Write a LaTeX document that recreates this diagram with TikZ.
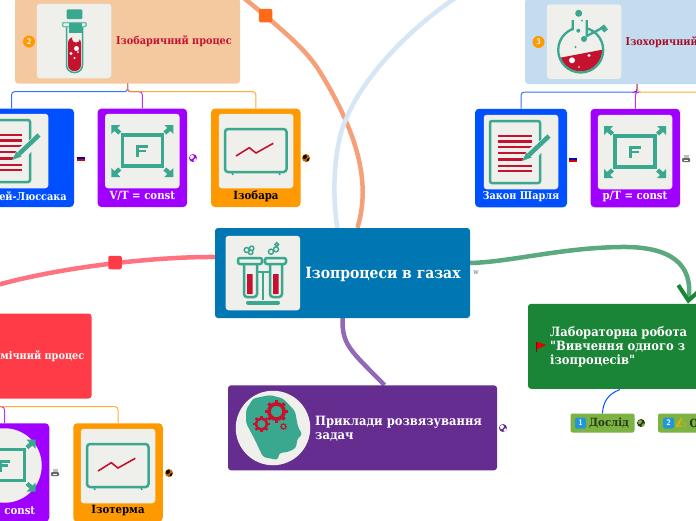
\documentclass[tikz,border=0pt]{standalone}
\usepackage{fontspec}
\setmainfont{DejaVu Serif Condensed}[Ligatures=TeXOff]
\newfontfamily\emojifont{Noto Emoji}
\usepackage{xcolor}
\usetikzlibrary{arrows.meta, positioning, calc, backgrounds}

\definecolor{iconbg}{HTML}{EFEFEB}
\definecolor{iconteal}{HTML}{3AA78F}
\definecolor{iconred}{HTML}{C4122F}
\definecolor{centralblue}{HTML}{0077B3}
\definecolor{isobarpeach}{HTML}{F4C9A0}
\definecolor{isochorblue}{HTML}{C3DCEF}
\definecolor{isothermred}{HTML}{FF3B47}
\definecolor{examplespurple}{HTML}{652D8F}
\definecolor{labgreen}{HTML}{1A8437}
\definecolor{lawblue}{HTML}{0050FF}
\definecolor{formulapurple}{HTML}{A000FF}
\definecolor{graphorange}{HTML}{FF9900}
\definecolor{stepgreen}{HTML}{7CB342}
\definecolor{keyblue}{HTML}{2196D8}

\tikzset{
    topicbox/.style={rounded corners=3pt, minimum height=85pt, inner sep=0pt},
    childbox/.style={rounded corners=4pt, minimum height=98.5pt, inner sep=0pt},
    stepbox/.style={fill=stepgreen, rounded corners=2pt, minimum height=19pt, inner sep=0pt},
    iconbox/.style={fill=iconbg, rounded corners=3pt, minimum width=74.5pt, minimum height=74.5pt, inner sep=0pt},
    iconround/.style={fill=iconbg, circle, minimum size=74.5pt, inner sep=0pt},
    knob/.style={rounded corners=2pt, minimum size=13.5pt, inner sep=0pt},
    badge/.style={circle, fill=graphorange, text=white, minimum size=12pt, inner sep=0pt, font=\sffamily\bfseries\fontsize{8}{8}\selectfont},
    keycap/.style={fill=keyblue, text=white, rounded corners=1.5pt, minimum size=11pt, inner sep=0pt, font=\sffamily\bfseries\fontsize{8}{8}\selectfont},
    maintitle/.style={inner sep=0pt, font=\bfseries\fontsize{15.5}{17}\selectfont},
    topictitle/.style={inner sep=0pt, font=\bfseries\fontsize{10.8}{13}\selectfont},
    childtitle/.style={inner sep=0pt, font=\bfseries\fontsize{11.3}{14}\selectfont},
    lawtitle/.style={inner sep=0pt, font=\bfseries\fontsize{10.8}{13}\selectfont},
    wraptitle/.style={inner sep=0pt, font=\bfseries\fontsize{12.8}{13.6}\selectfont, align=left, anchor=west},
    mainline/.style={line width=4.5pt},
    elbow/.style={line width=1pt, rounded corners=3pt, opacity=0.8},
    % document with pen
    pics/docicon/.style={code={
        \draw[iconteal, line width=2.5pt, rounded corners=2pt] (-31,-31) rectangle (19,31);
        \foreach \y/\w in {-16/2.6, -10.7/2.6, -5/1.6, 0.7/1.6, 7.3/2.6, 13.7/1.6, 19/1.6}
            \draw[iconred, line width=\w pt] (-23,\y) -- (11,\y);
        \fill[iconbg] (0,12) -- (6,-2) -- (31,-20) -- (32,-12) -- (10,12) -- cycle;
        \draw[iconteal, line width=4.5pt] (8,3) -- (28,-16);
        \fill[iconteal] (1,9) -- (5.5,0.5) -- (10.5,5.5) -- cycle;
    }},
    % frame with four corner arrows
    pics/frameicon/.style={code={
        \draw[iconteal, line width=3.5pt] (-20,-16) rectangle (20,15);
        \draw[iconteal, line width=3pt] (5.5,-4.5) -- (-4.5,-4.5) -- (-4.5,6);
        \draw[iconteal, line width=2.5pt] (-4.5,0) -- (3.5,0);
        \foreach \sx/\sy in {1/1, -1/1, 1/-1, -1/-1}
            \fill[iconteal, xscale=\sx, yscale=\sy] (-31,-26) -- (-22,-26) -- (-25,-23) -- (-21,-19.5) -- (-24,-16.5) -- (-28,-20) -- (-31,-17) -- cycle;
    }},
    % screen with a graph line
    pics/charticon/.style={code={
        \draw[iconteal, line width=2.5pt, rounded corners=3pt] (-31,-22) rectangle (30.5,21);
        \draw[iconteal, line width=1.5pt] (-24,21.5) -- (-23,24) (23,21.5) -- (24,24);
        \draw[iconred, line width=1.6pt] (-20,5) -- (-6.7,-3.3) -- (0,2) -- (17.3,-7.7);
    }},
    pics/gearicon/.style={code={
        \draw[iconred, line width=#1*0.38pt] (0,0) circle[radius=#1*0.8];
        \foreach \a in {0,45,...,315}
            \fill[iconred, rotate=\a] (#1*0.9,-#1*0.17) rectangle (#1*1.2,#1*0.17);
    }},
    pics/globeicon/.style n args={2}{code={
        \fill[#1] (0,0) circle[radius=4];
        \fill[#2] (-3,-2) -- (0,-3.5) -- (1,-1) -- (-1,1) -- (-2.5,1) -- cycle;
        \fill[#2] (1,1) -- (3.5,0) -- (2.5,3) -- (0.5,3.5) -- cycle;
    }},
    pics/flagicon/.style={code={
        \fill[blue!70!black] (-4,-2.5) rectangle (4,0);
        \fill[red!85!black] (-4,0) rectangle (4,2.5);
        \fill[white] (-4,-2.5) rectangle (4,-1.4);
    }},
    pics/printicon/.style={code={
        \fill[gray!80!black, rounded corners=1pt] (-4,-1) rectangle (4,3);
        \fill[gray!50] (-2.5,-4) rectangle (2.5,-1);
        \fill[white] (-2,1) rectangle (2,2);
    }},
}

\begin{document}
\begin{tikzpicture}[x=1pt, y=-1pt]
    \useasboundingbox (0,0) rectangle (696,520);
    \clip (0,0) rectangle (696,520);

    % Main boxes
    \node[topicbox, fill=centralblue, minimum width=255pt, minimum height=90pt] (central) at (342.5,273) {};
    \node[topicbox, fill=isobarpeach, minimum width=225pt] (isobar) at (127.5,41) {};
    \node[topicbox, fill=isochorblue, minimum width=224pt] (isochor) at (637,41.5) {};
    \node[topicbox, fill=isothermred, minimum width=263pt] (isotherm) at (-40,356) {};
    \node[topicbox, fill=examplespurple, minimum width=269pt] (examples) at (362.5,427.8) {};
    \node[topicbox, fill=labgreen, minimum width=184pt] (labwork) at (620,346.3) {};

    % Free ends of the main curves
    \coordinate (isobarend) at (232,-12);
    \coordinate (isochorend) at (472,-13);
    \coordinate (isothermend) at (-20,290);

    % Main curves
    \begin{scope}[on background layer]
    \fill[white] (0,0) rectangle (696,520);
    \draw[mainline, color={rgb,255:red,245;green,160;blue,120}] ($(central.north)+(15,0)$) .. controls (367,195) and (368,150) .. (320,72) .. controls (305,48) and (285,32) .. (isobarend);
    \draw[mainline, color={rgb,255:red,214;green,230;blue,244}] ($(central.north)+(-5,0)$) .. controls (331,190) and (335,140) .. (347,117) .. controls (358,90) and (395,35) .. (isochorend);
    \draw[mainline, color={rgb,255:red,255;green,115;blue,128}] ($(central.west)+(0,-16)$) .. controls (165,256.5) and (60,265) .. (isothermend);
    \draw[mainline, color={rgb,255:red,148;green,104;blue,180}] (central.south) .. controls (342,345) and (350,350) .. ($(examples.north)+(22,0)$);
    \draw[mainline, color={rgb,255:red,91;green,170;blue,127}, -{Straight Barb[length=14pt, width=24pt, line width=4pt, color=labgreen]}] ($(central.east)+(0,-10)$) .. controls (510,262) and (560,248) .. (620,247) .. controls (672,246) and (693,265) .. ($(labwork.north)+(68,0)$);
    \end{scope}

    \node[knob, fill=orange!70!red!90] (isobarknob) at (265.5,15.5) {};
    \node[knob, fill=isothermred] (isothermknob) at (115,262.5) {};

    % Central
    \node[iconbox] (centralicon) at (262.8,273) {};
    \node[maintitle, text=white] (centraltext) at (383,274) {Ізопроцеси в газах};
    \node[font=\fontsize{7}{7}\selectfont, text=gray!80!black, inner sep=0pt] (wikilink) at (476,272.5) {w};
    % rack with two tubes
    \draw[iconteal, line width=2.5pt, rounded corners=2pt] (238,258) rectangle (262,264) (265,258) rectangle (286,264);
    \draw[iconteal, line width=2.5pt, rounded corners=3pt] (244,264) -- (244,297) -- (257,297) -- (257,264);
    \draw[iconteal, line width=2.5pt, rounded corners=3pt] (270,264) -- (270,297) -- (282,297) -- (282,264);
    \fill[iconred] (247,274) rectangle (252.7,294) (273,274) rectangle (278.5,294);
    \draw[iconteal, line width=2pt] (257,272) -- (270,272) (263,272) -- (263,300);
    \draw[iconteal, line width=4pt, line cap=round] (248,302.5) -- (278,302.5);
    \draw[iconteal, line width=1.5pt] (246.7,250) circle[radius=2.5] (251.7,248.3) circle[radius=2.2] (250.7,252.3) circle[radius=2.2];
    \draw[iconteal, line width=1.5pt] (271,251.7) circle[radius=2.5] (276,249.3) circle[radius=2.5] (276.7,244.5) circle[radius=1.8];

    % Isobaric
    \node[iconbox] (isobaricon) at (74,41) {};
    \node[badge] (isobarbadge) at (29,41.5) {2};
    \node[topictitle, text=iconred] (isobartext) at (174,41.5) {Ізобаричний процес};
    % test tube
    \fill[iconteal, rounded corners=1pt] (66.7,9.3) rectangle (82.3,19);
    \fill[iconred, rounded corners=6pt] (68,37) rectangle (81,71);
    \fill[iconbg] (76,38.5) circle[radius=4];
    \draw[iconteal, line width=1.5pt, rounded corners=7.5pt] (66.5,26.5) -- (66.5,72.5) -- (82.5,72.5) -- (82.5,26.5);
    \draw[iconteal!70, line width=1.5pt, rounded corners=1pt] (62.5,22.5) rectangle (86,26.5);
    \fill[iconteal] (69,23.3) rectangle (81.7,32.7);
    \fill[white] (76.5,48.5) circle[radius=2.5] (71,53.5) circle[radius=1.6] (74.5,58) circle[radius=1.2] (78,52) circle[radius=1];

    % Isochoric
    \node[iconbox] (isochoricon) at (584,41.5) {};
    \node[badge] (isochorbadge) at (538.5,42) {3};
    \node[topictitle, text=iconred!85!black, anchor=west] (isochortext) at (625.5,42) {Ізохоричний процес};
    % flask
    \begin{scope}
        \clip (580.7,50) circle[radius=21.5];
        \fill[iconred] (556,58.5) -- (606,49) -- (606,80) -- (556,80) -- cycle;
    \end{scope}
    \draw[iconteal, line width=2.3pt] (580.7,50) circle[radius=22.5];
    \fill[iconbg] (574,25) rectangle (585.5,32);
    \draw[iconteal, line width=2.3pt] (572.7,20) -- (572.7,30) (586.7,20) -- (586.7,36) -- (604,27);
    \draw[iconteal, line width=5pt] (602,26) -- (606,31);
    \fill[iconteal] (578.7,13.3) circle[radius=3.5] (584,39) circle[radius=3] (578.3,30.7) circle[radius=2] (582,20.7) circle[radius=1] (575.5,47) circle[radius=1.2];
    \fill[white] (572,60.3) circle[radius=3] (589,55.5) circle[radius=1.6] (579,67) circle[radius=0.9];

    % Isobaric children
    \node[childbox, fill=lawblue, minimum width=125pt] (gaylussac) at (11.5,157.8) {};
    \node[childbox, fill=formulapurple, minimum width=89.5pt] (vtconst) at (142.3,157.8) {};
    \node[childbox, fill=graphorange, minimum width=89.5pt] (isobargraph) at (255.8,157.8) {};
    \draw[elbow, lawblue] (isobar.south) -- ++(0,8) -| (gaylussac.north);
    \draw[elbow, formulapurple] (isobar.south) -- ++(0,8) -| (vtconst.north);
    \draw[elbow, graphorange] (isobar.south) -- ++(0,8) -| (isobargraph.north);
    \node[iconbox] (gayicon) at (11,151) {};
    \node[iconbox] (vticon) at (142.3,151) {};
    \node[iconbox] (isobargraphicon) at (256,151) {};
    \pic at (gayicon) {docicon};
    \pic at (vticon) {frameicon};
    \pic at (isobargraphicon) {charticon};
    \node[lawtitle, text=white] (gaytext) at (11,196.5) {Закон Гей-Люссака};
    \node[childtitle, text=white] (vttext) at (142.3,196) {V/T = const};
    \node[childtitle, text=black] (isobargraphtext) at (256,196) {Ізобара};
    \pic at (80.5,158.5) {flagicon};
    \pic at (193,158) {globeicon={formulapurple}{white}};
    \pic at (306,158) {globeicon={orange!80!black}{black}};

    % Isochoric children
    \node[childbox, fill=lawblue, minimum width=92pt] (charles) at (521,158) {};
    \node[childbox, fill=formulapurple, minimum width=89.5pt] (ptconst) at (635.3,158) {};
    \coordinate (isochorgraph) at (749,109);
    \draw[elbow, lawblue] (isochor.south) -- ++(0,8) -| (charles.north);
    \draw[elbow, formulapurple] (isochor.south) -- ++(0,8) -| (ptconst.north);
    \draw[elbow, graphorange] (isochor.south) -- ++(0,8) -| (isochorgraph);
    \node[iconbox] (charlesicon) at (521,152) {};
    \node[iconbox] (pticon) at (635,152) {};
    \pic at (charlesicon) {docicon};
    \pic at (pticon) {frameicon};
    \node[lawtitle, text=white] (charlestext) at (521,196.5) {Закон Шарля};
    \node[childtitle, text=white] (pttext) at (635,197) {p/T = const};
    \pic at (573,159.5) {flagicon};
    \pic at (686,159) {printicon};

    % Isothermal
    \node[topictitle, text=white, anchor=east] (isothermtext) at (84.5,356.5) {Ізотермічний процес};
    \node[childbox, fill=formulapurple, minimum width=89.5pt] (pvconst) at (4.5,472.5) {};
    \node[childbox, fill=graphorange, minimum width=89.5pt] (isothermgraph) at (118,472.5) {};
    \draw[elbow, formulapurple] (isotherm.south) -- ++(0,8) -| (pvconst.north);
    \draw[elbow, graphorange] (isotherm.south) -- ++(0,8) -| (isothermgraph.north);
    \node[iconround] (pvicon) at (4.5,465.5) {};
    \node[iconbox] (isothermgraphicon) at (118,466) {};
    \pic at (pvicon) {frameicon};
    \pic at (isothermgraphicon) {charticon};
    \node[childtitle, text=white] (pvtext) at (4.5,511.5) {pV = const};
    \node[childtitle, text=black] (isothermgraphtext) at (118,511) {Ізотерма};
    \pic at (55,473) {printicon};
    \pic at (169,473) {globeicon={orange!80!black}{black}};

    % Examples
    \node[iconround] (examplesicon) at (273,428) {};
    \node[wraptitle, text=white] (examplestext) at (315,429) {Приклади розвязування\\задач};
    \fill[iconteal, rounded corners=3pt] (246,410) -- (253,398.5) -- (270,395) -- (283,398.5) -- (295,411) -- (298,427) -- (302.5,435) -- (297.5,438) -- (296,448) -- (288,452) -- (279,453) -- (278,460) -- (263,457) -- (255,440) -- (246,423) -- cycle;
    \pic at (276.5,411.5) {gearicon=9.5};
    \pic at (261.5,424) {gearicon=7};
    \pic at (283.5,426.5) {gearicon=3};
    \pic at (503,428) {globeicon={examplespurple}{white}};

    % Lab work
    \node[wraptitle, text=white] (labtext) at (550,346.8) {Лабораторна робота\\"Вивчення одного з\\ізопроцесів"};
    \fill[red!60!black] (536,342) rectangle (537,352);
    \fill[red!90!black] (537,342) -- (546.5,345) -- (537,349) -- cycle;

    % Lab steps
    \node[stepbox, minimum width=64pt] (stepone) at (602.5,423) {};
    \node[stepbox, minimum width=60pt] (steptwo) at (688,423) {};
    \draw[line width=1pt, lawblue] ($(labwork.south)+(0,0.5)$) .. controls (608,394) and (603,402) .. (stepone.north);
    \node[keycap] (stepkeyone) at (580.5,423) {1};
    \node[childtitle, text=black!70!stepgreen, anchor=west, inner sep=0pt] (steponetext) at (589,423) {Дослід};
    \pic at (641,423) {globeicon={black!70!stepgreen}{stepgreen}};
    \node[keycap] (stepkeytwo) at (668.5,423) {2};
    \node[font=\emojifont\fontsize{10}{10}\selectfont, text=orange!60!yellow, inner sep=0pt] (stephand) at (681,423) {✍};
    \node[childtitle, text=black!70!stepgreen, anchor=west, inner sep=0pt] (steptwotext) at (689.5,423) {О};
\end{tikzpicture}
\end{document}
